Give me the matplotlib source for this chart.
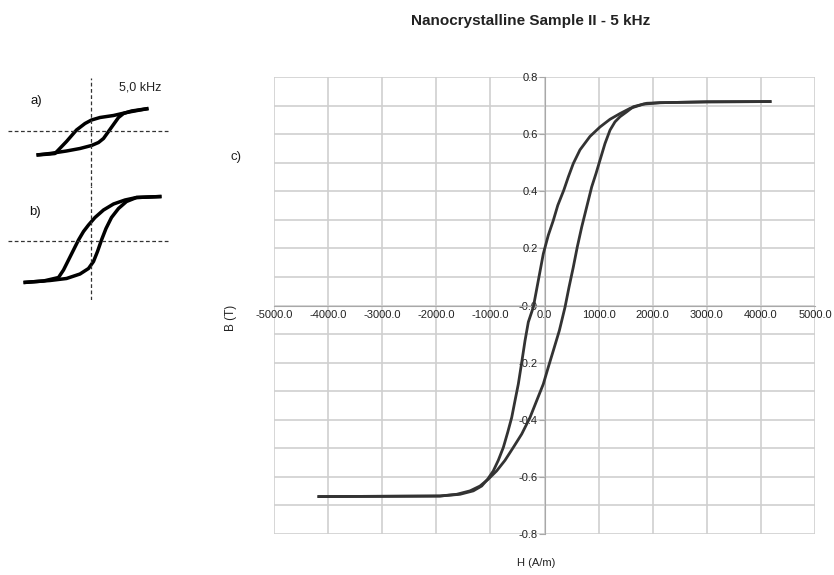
import numpy as np
import matplotlib.pyplot as plt

plt.rcParams['font.family'] = ['Liberation Sans', 'DejaVu Sans']
plt.rcParams['axes.unicode_minus'] = False

# Main loop, sample II at 5 kHz: H (A/m), B (T)
H_down = [4170, 3000, 2135, 1826, 1580, 1396, 1211, 1026, 841, 656, 532, 440, 357, 246, 163, 70,
          -22, -114, -207, -299, -360, -421, -484, -545, -606, -680, -761, -854, -946,
          -1050, -1161, -1316, -1562, -1932, -3000, -4170]
B_down = [0.714, 0.713, 0.710, 0.705, 0.690, 0.672, 0.652, 0.625, 0.592, 0.545, 0.497, 0.450,
          0.404, 0.351, 0.298, 0.246, 0.181, 0.088, -0.006, -0.058, -0.123, -0.199, -0.275,
          -0.333, -0.392, -0.444, -0.497, -0.542, -0.579, -0.608, -0.632, -0.649, -0.661,
          -0.667, -0.668, -0.669]
H_up = [-4170, -3000, -1932, -1623, -1377, -1192, -1039, -884, -730, -577, -421, -268, -144,
        -22, 70, 163, 274, 379, 453, 532, 606, 688, 780, 872, 952, 1026, 1118, 1211, 1303,
        1396, 1519, 1642, 1889, 2135, 3000, 4170]
B_up = [-0.669, -0.668, -0.667, -0.661, -0.649, -0.632, -0.608, -0.579, -0.542, -0.497, -0.450,
        -0.392, -0.333, -0.275, -0.216, -0.158, -0.088, -0.006, 0.064, 0.134, 0.205, 0.275,
        0.345, 0.415, 0.462, 0.509, 0.567, 0.614, 0.643, 0.661, 0.678, 0.696, 0.708, 0.710,
        0.713, 0.714]

# Small scanned loops a) and b), arbitrary units
a_x_low = [-1.09, -0.82, -0.49, -0.22, 0.01, 0.15, 0.25, 0.35, 0.45, 0.55, 0.65, 0.81, 1.15]
a_y_low = [-0.48, -0.45, -0.40, -0.35, -0.29, -0.23, -0.15, -0.01, 0.13, 0.27, 0.35, 0.40, 0.45]
a_x_up = [-1.09, -0.82, -0.72, -0.49, -0.29, -0.12, 0.01, 0.18, 0.45, 0.71, 0.98, 1.15]
a_y_up = [-0.48, -0.46, -0.45, -0.21, 0.02, 0.15, 0.22, 0.27, 0.31, 0.37, 0.42, 0.45]
b_x_low = [-1.35, -0.82, -0.49, -0.22, -0.05, 0.05, 0.13, 0.21, 0.30, 0.41, 0.55, 0.71, 0.91, 1.41]
b_y_low = [-0.83, -0.79, -0.75, -0.66, -0.55, -0.41, -0.21, 0.02, 0.25, 0.47, 0.65, 0.79, 0.87, 0.89]
b_x_up = [-1.35, -0.95, -0.65, -0.55, -0.45, -0.35, -0.25, -0.15, -0.05, 0.08, 0.25, 0.45,
          0.68, 0.91, 1.41]
b_y_up = [-0.83, -0.80, -0.73, -0.58, -0.38, -0.18, 0.02, 0.19, 0.32, 0.47, 0.62, 0.74,
          0.82, 0.87, 0.89]

W, Hpx = 834, 575
fig = plt.figure(figsize=(W / 100, Hpx / 100), dpi=100)


def box(x0, y0, x1, y1):
    # pixel box (top-left origin) -> figure fraction rect
    return [x0 / W, 1 - y1 / Hpx, (x1 - x0) / W, (y1 - y0) / Hpx]


# ---- main chart c)
ax = fig.add_axes(box(274, 77, 815, 534))
ax.plot(H_down, B_down, color='#333333', lw=2.0, zorder=3, solid_joinstyle='round')
ax.plot(H_up, B_up, color='#333333', lw=2.0, zorder=3, solid_joinstyle='round')
ax.set_xlim(-5000, 5000)
ax.set_ylim(-0.8, 0.8)
ax.set_xticks(np.arange(-5000, 5001, 1000))
ax.set_yticks(np.arange(-0.8, 0.81, 0.2))
ax.set_yticks(np.arange(-0.8, 0.81, 0.1), minor=True)
ax.xaxis.set_major_formatter(plt.FormatStrFormatter('%.1f'))
ax.yaxis.set_major_formatter(plt.FormatStrFormatter('%.1f'))
ax.grid(True, which='both', color='#cfcfcf', lw=1.2)
ax.set_axisbelow(True)
for s in ['top', 'right']:
    ax.spines[s].set_visible(False)
ax.spines['left'].set_position(('data', 0))
ax.spines['bottom'].set_position(('data', 0))
ax.spines['left'].set_color('#a8a8a8')
ax.spines['bottom'].set_color('#a8a8a8')
ax.tick_params(axis='y', which='major', length=4, color='#a8a8a8', pad=1, labelsize=8)
ax.tick_params(axis='y', which='minor', length=0)
ax.tick_params(axis='x', length=0, pad=3, labelsize=8)
for lab in ax.get_xticklabels() + ax.get_yticklabels():
    lab.set_color('#222222')

fig.text(531 / W, 1 - 21 / Hpx, 'Nanocrystalline Sample II - 5 kHz', ha='center',
         va='center', fontsize=11, fontweight='bold', color='#222222')
fig.text(236 / W, 1 - 157 / Hpx, 'c)', ha='center', va='center', fontsize=9.5, color='#222222')
fig.text(231 / W, 1 - 318 / Hpx, 'B (T)', ha='center', va='center', rotation=90,
         fontsize=8.5, color='#222222')
fig.text(536 / W, 1 - 563 / Hpx, 'H (A/m)', ha='center', va='center', fontsize=8,
         color='#222222')

# ---- small loops a) and b)
for rect, xl, yl, lx, ly, ux, uy in [
        (box(0, 78, 200, 186), (-1.82, 2.18), (-1.10, 1.06), a_x_low, a_y_low, a_x_up, a_y_up),
        (box(0, 186, 200, 300), (-1.82, 2.18), (-1.18, 1.10), b_x_low, b_y_low, b_x_up, b_y_up)]:
    axi = fig.add_axes(rect)
    axi.plot(lx, ly, color='black', lw=2.5, solid_joinstyle='round', solid_capstyle='butt')
    axi.plot(ux, uy, color='black', lw=2.5, solid_joinstyle='round', solid_capstyle='butt')
    axi.plot([-1.66, 1.54], [0, 0], color='#333333', lw=0.9, ls=(0, (3, 2)))
    axi.axvline(0, color='#333333', lw=0.9, ls=(0, (3, 2)))
    axi.set_xlim(*xl)
    axi.set_ylim(*yl)
    axi.axis('off')

fig.text(140 / W, 1 - 88 / Hpx, '5,0 kHz', ha='center', va='center', fontsize=9, color='#222222')
fig.text(36 / W, 1 - 101 / Hpx, 'a)', ha='center', va='center', fontsize=9.5, color='#111111')
fig.text(35 / W, 1 - 212 / Hpx, 'b)', ha='center', va='center', fontsize=9.5, color='#111111')

fig.savefig('out.png', dpi=100)
